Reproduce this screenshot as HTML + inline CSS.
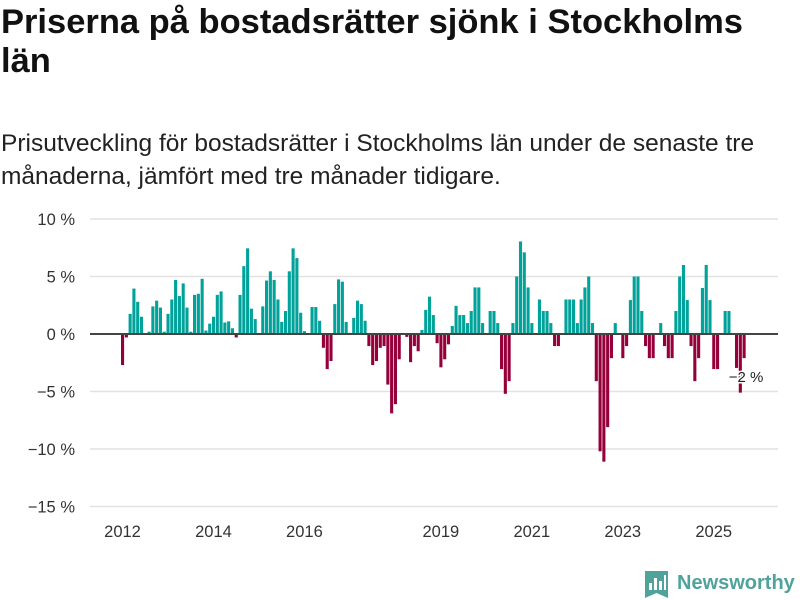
<!DOCTYPE html>
<html><head><meta charset="utf-8">
<style>
body{margin:0;width:800px;height:600px;background:#fff;font-family:"Liberation Sans",sans-serif;overflow:hidden;position:relative;color:#111}
#title{position:absolute;left:1px;top:3px;font-size:34.5px;font-weight:bold;line-height:39px;margin:0;width:800px;white-space:nowrap}
#sub{position:absolute;left:1px;top:127px;font-size:24.5px;line-height:33px;width:800px;color:#222;white-space:nowrap}
svg{position:absolute;left:0;top:0}
</style></head><body>
<h1 id="title">Priserna på bostadsrätter sjönk i Stockholms<br>län</h1>
<div id="sub">Prisutveckling för bostadsrätter i Stockholms län under de senaste tre<br>månaderna, jämfört med tre månader tidigare.</div>
<svg id="chart" width="800" height="600"></svg>
<script>
const values = [-2.7,-0.3,1.75,3.95,2.8,1.5,0,0.2,2.4,2.9,2.3,0.2,1.75,3.0,4.7,3.3,4.4,2.3,0.2,3.4,3.5,4.8,0.3,0.9,1.5,3.4,3.7,1.0,1.1,0.5,-0.3,3.4,5.9,7.45,2.2,1.3,0,2.4,4.65,5.45,4.7,3.0,
1.05,2.0,5.45,7.45,6.6,1.85,0.25,0,2.35,2.35,1.15,-1.2,-3.05,-2.35,2.6,4.75,4.55,1.05,0.1,1.4,2.9,2.6,1.15,-1.05,-2.7,-2.35,-1.2,-1.05,-4.4,-6.9,-6.1,-2.2,0,-0.25,-2.45,-1.05,-1.5,0.35,2.1,3.25,1.65,-0.8,
-2.9,-2.2,-0.9,0.7,2.45,1.65,1.65,0.95,2.0,4.05,4.05,0.95,0,2.0,2.0,0.95,-3.05,-5.2,-4.1,0.95,5.0,8.05,7.1,4.05,0.95,0,3.0,2.0,2.0,0.95,-1.05,-1.05,0,3.0,3.0,3.0,0.95,3.0,4.05,5.0,0.95,
-4.1,-10.2,-11.1,-8.1,-2.1,0.95,0,-2.1,-1.05,2.95,5.0,5.0,2.0,-1.05,-2.1,-2.1,0,0.95,-1.05,-2.1,-2.1,2.0,5.0,6.0,2.95,-1.05,-4.1,-2.1,4.0,6.0,2.95,-3.05,-3.05,0,2.0,2.0,0,-2.95,-5.1,-2.1];
const yTicks = [10,5,0,-5,-10,-15];
const yTickLabels = ["10 %","5 %","0 %","\u22125 %","\u221210 %","\u221215 %"];
const xYears = [2012,2014,2016,2019,2021,2023,2025];
const startYear = 2012;
const lastLabel = "\u22122 %";

const svg = document.getElementById('chart');
const NS = 'http://www.w3.org/2000/svg';
const y = v => 334 - v * 11.5;
const step = 3.79;
const x = i => 122.5 + i * step;
function mk(tag, attrs){const e=document.createElementNS(NS,tag);for(const k in attrs)e.setAttribute(k,attrs[k]);svg.appendChild(e);return e;}

yTicks.forEach((t,k)=>{
  if(t!==0){const g=mk('line',{x1:90,x2:778,y1:y(t),y2:y(t),stroke:'#e2e2e2','stroke-width':1.5});
  
  }
  const l=mk('text',{x:75,y:y(t)+6,'text-anchor':'end','font-size':16.5,fill:'#333','font-family':'Liberation Sans, sans-serif'});
  l.textContent=yTickLabels[k];
  
  
});
xYears.forEach(yr=>{
  const l=mk('text',{x:x((yr-startYear)*12),y:537,'text-anchor':'middle','font-size':16.5,fill:'#333','font-family':'Liberation Sans, sans-serif'});
  l.textContent=String(yr);
  
  
});
values.forEach((v,i)=>{
  const top=Math.min(y(v),y(0)), h=Math.abs(y(v)-y(0));
  const b=mk('rect',{x:x(i)-1.5,y:top,width:3.1,height:h,fill:v>=0?'#00a29a':'#95003a'});
  
  
});
const z=mk('line',{x1:90,x2:778,y1:y(0),y2:y(0),stroke:'#444','stroke-width':2});


const li=values.length-1;
const lab=mk('text',{x:x(li)+2,y:382,'text-anchor':'middle','font-size':15,fill:'#222','font-family':'Liberation Sans, sans-serif',stroke:'#fff','stroke-width':3,'paint-order':'stroke'});
lab.textContent=lastLabel;



const g=document.createElementNS(NS,'g');svg.appendChild(g);


g.innerHTML='<path d="M645 571 h23 v27 l-11.5 -5 l-11.5 5 z" fill="#4fa39a"/><rect x="649" y="583" width="3" height="7" fill="#fff"/><rect x="654" y="578" width="3" height="12" fill="#fff"/><rect x="659" y="581" width="3" height="9" fill="#fff"/><rect x="664" y="575" width="2" height="15" fill="#fff"/><text x="677" y="589" font-size="20" font-weight="bold" fill="#4fa39a" font-family="Liberation Sans, sans-serif">Newsworthy</text>';
</script>
</body></html>
